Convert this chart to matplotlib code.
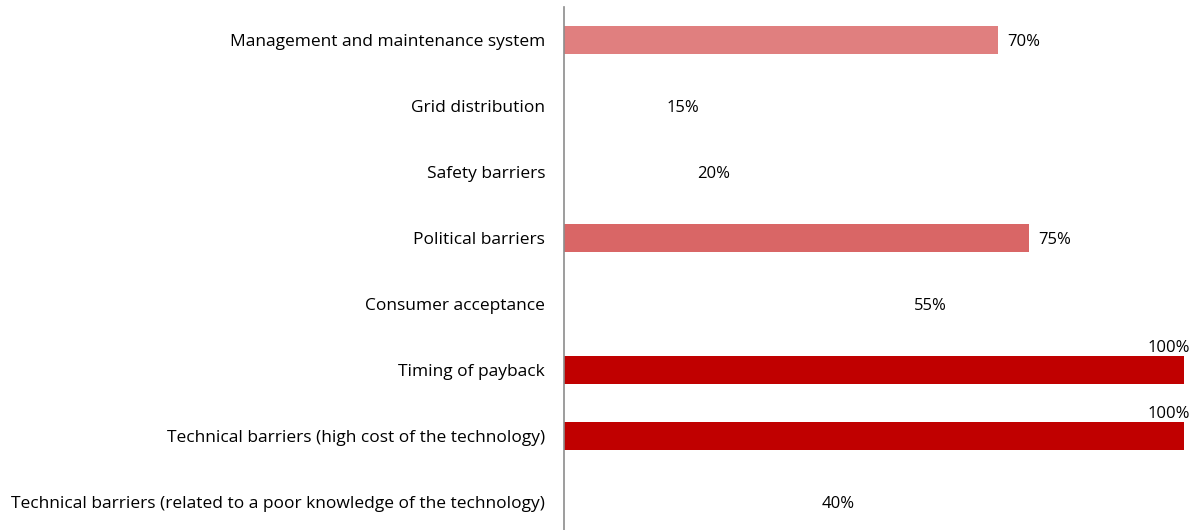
import matplotlib
matplotlib.use("Agg")
import matplotlib.pyplot as plt

# -------------------------
# DATOS
# -------------------------
categorias = [
    "Management and maintenance system",
    "Grid distribution",
    "Safety barriers",
    "Political barriers",
    "Consumer acceptance",
    "Timing of payback",
    "Technical barriers (high cost of the technology)",
    "Technical barriers (related to a poor knowledge of the technology)",
]
valores = [70, 15, 20, 75, 55, 100, 100, 40]
colores = ["#E07F7F", "#FFFFFF", "#FFFFFF", "#D96666",
           "#FFFFFF", "#C00000", "#C00000", "#FFFFFF"]

plt.rcParams["font.family"] = ["Open Sans", "DejaVu Sans"]

fig = plt.figure(figsize=(12, 5.3), dpi=100)
ax = fig.add_axes([0.47, -0.01, 0.517, 0.997])

pos = list(range(len(categorias)))
ax.barh(pos, valores, height=0.42, color=colores)

# Etiquetas de valor
for y, v in zip(pos, valores):
    if v >= 100:
        ax.annotate(f"{v}%", xy=(v, y - 0.35), xytext=(4, -1),
                    textcoords="offset points", ha="right", va="center",
                    fontsize=12, color="#000000")
    else:
        ax.annotate(f"{v}%", xy=(v, y), xytext=(6.5, -1.5),
                    textcoords="offset points", ha="left", va="center",
                    fontsize=12, color="#000000")

ax.set_xlim(0, 100)
ax.set_ylim(len(categorias) - 0.5, -0.5)
ax.set_yticks(pos)
ax.set_yticklabels(categorias, fontsize=12.5)
ax.tick_params(axis="y", length=0, pad=13.5)
ax.set_xticks([])

for lado in ["top", "right", "bottom"]:
    ax.spines[lado].set_visible(False)
ax.spines["left"].set_color("#8C8C8C")
ax.spines["left"].set_linewidth(1.2)

fig.savefig("out.png", dpi=100)
